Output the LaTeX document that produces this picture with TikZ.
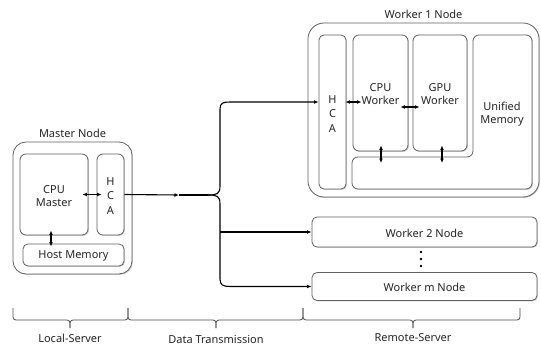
\documentclass[tikz,border=0pt]{standalone}
\usepackage{fontspec}
\setmainfont{Noto Sans}
\usetikzlibrary{arrows.meta,shadows,calc}
\begin{document}
\begin{tikzpicture}[x=1pt,y=-1pt,
  box/.style={draw=black!62,line width=0.8pt,fill=white,rounded corners=#1,inner sep=0pt,
    drop shadow={shadow xshift=0.9pt,shadow yshift=-0.9pt,fill=black!28,opacity=0.7}},
  box/.default=6pt,
  txt/.style={font=\fontsize{11}{13.5}\selectfont,text=black!85,align=center},
  hcatxt/.style={font=\fontsize{11}{14.5}\selectfont,text=black!85,align=center},
  conn/.style={line width=1.1pt,black,-{Latex[length=4.5pt,width=3.8pt]}},
  biconn/.style={line width=1.1pt,black,{Latex[length=4.5pt,width=3.8pt]}-{Latex[length=4.5pt,width=3.8pt]}},
  brc/.style={draw=black!70,line width=0.8pt,rounded corners=3pt}
]
\useasboundingbox (0,0) rectangle (541,345);

% ---------- Master node ----------
\node[box=13pt,minimum width=119pt,minimum height=132pt] (master) at (72.5,208) {};
\node[txt,anchor=south] (masterlbl) at (72.5,141) {Master Node};
\node[box,minimum width=68pt,minimum height=81pt] (cpum) at (54,194.5) {};
\node[txt] (cpumtxt) at (54,196) {CPU\\Master};
\node[box,minimum width=27pt,minimum height=81pt] (hcam) at (110.5,194.5) {};
\node[hcatxt] (hcamtxt) at (110.5,196) {H\\C\\A};
\node[box=5pt,minimum width=101pt,minimum height=22pt] (host) at (73.5,255) {};
\node[txt] (hosttxt) at (73.5,255.5) {Host Memory};

\draw[biconn] ([xshift=-6pt]cpum.east) -- ([xshift=5pt]hcam.west);
\draw[biconn] ([xshift=-3pt,yshift=5pt]cpum.south) -- ([xshift=-22.5pt,yshift=-3pt]host.north);

% ---------- Worker 1 node ----------
\node[box=16pt,minimum width=231pt,minimum height=174pt] (w1) at (423.5,110) {};
\node[txt,anchor=south] (w1lbl) at (423.5,22) {Worker 1 Node};
\node[box=5pt,minimum width=27pt,minimum height=154pt] (hcaw) at (332.5,112) {};
\node[hcatxt] (hcawtxt) at (332.5,114) {H\\C\\A};
\node[box,minimum width=55pt,minimum height=116pt] (cpuw) at (380.5,93) {};
\node[txt] (cpuwtxt) at (380.5,94) {CPU\\Worker};
\node[box,minimum width=54pt,minimum height=116pt] (gpuw) at (440,93) {};
\node[txt] (gpuwtxt) at (440,94) {GPU\\Worker};
\path[draw=black!62,line width=0.8pt,fill=white,rounded corners=6pt,
  drop shadow={shadow xshift=0.9pt,shadow yshift=-0.9pt,fill=black!28,opacity=0.7}]
  (473,35) -- (532,35) -- (532,189) -- (352,189) -- (352,157) -- (473,157) -- cycle;
\node[txt] (umtxt) at (502,114) {Unified\\Memory};
\coordinate (umtop1) at (381,163);
\coordinate (umtop2) at (442,163);

\draw[biconn] ([xshift=-1pt,yshift=10pt]hcaw.east) -- ([xshift=9pt,yshift=-9pt]cpuw.west);
\draw[biconn] ([xshift=-8pt,yshift=-14pt]cpuw.east) -- ([xshift=7pt,yshift=-14pt]gpuw.west);
\draw[biconn] ([xshift=0.5pt,yshift=6pt]cpuw.south) -- (umtop1);
\draw[biconn] ([xshift=2pt,yshift=6pt]gpuw.south) -- (umtop2);

% ---------- Worker 2 / m ----------
\node[box=5pt,minimum width=225pt,minimum height=30pt] (w2) at (424.5,232) {};
\node[txt] (w2txt) at (424.5,233) {Worker 2 Node};
\node[box=5pt,minimum width=225pt,minimum height=28pt] (wm) at (424.5,286.5) {};
\node[txt] (wmtxt) at (424.5,287.5) {Worker m Node};
\foreach \yy/\nm in {252/d1,259/d2,266/d3}
  \fill[black] (421,\yy) circle (1.4pt) coordinate (\nm);

% ---------- Data transmission connectors ----------
\coordinate (j) at (179,195);
\draw[conn] (hcam.east) -- (j);
\draw[line width=1.6pt] (j) -- (208,195);
\draw[conn] (208,195) .. controls (217,195) and (220,194) .. (220,186) -- (220,109)
   .. controls (220,103) and (223,102) .. (230,102) -- ([yshift=10pt]hcaw.west);
\draw[conn] (208,195) .. controls (217,195) and (220,196) .. (220,204) -- (220,279)
   .. controls (220,285) and (223,286.5) .. (230,286.5) -- (wm.west);
\draw[conn] (220,232) -- (w2.west);

% ---------- Braces ----------
\draw[brc] (13,308) -- (13,320) -- (70,320) -- (70,328);
\draw[brc] (70,328) -- (70,320) -- (128,320) -- (128,308);
\draw[brc] (128,308) -- (128,320) -- (216,320) -- (216,328);
\draw[brc] (216,328) -- (216,320) -- (303,320) -- (303,308);
\draw[brc] (303,308) -- (303,320) -- (413,320) -- (413,328);
\draw[brc] (413,328) -- (413,320) -- (520,320) -- (520,308);
\node[txt] (l1) at (70,338) {Local-Server};
\node[txt] (l2) at (216,339) {Data Transmission};
\node[txt] (l3) at (413,338) {Remote-Server};
\end{tikzpicture}
\end{document}
